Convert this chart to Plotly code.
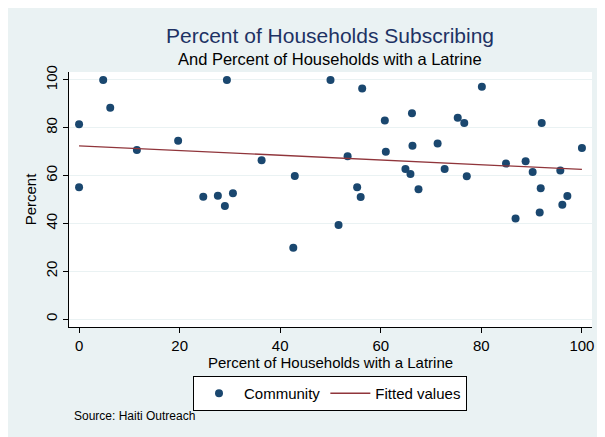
import numpy as np
import plotly.graph_objects as go

# Data
latrine = [0, 0, 4.8, 6.2, 11.5, 19.7, 24.7, 27.6, 29.0, 29.4, 30.6, 36.3, 42.6, 42.9,
           50.0, 51.6, 53.4, 55.3, 56.0, 56.3, 60.8, 61.0, 64.9, 65.9, 66.2, 66.3, 67.5,
           71.3, 72.7, 75.3, 76.6, 77.1, 80.1, 84.9, 86.8, 88.8, 90.2, 91.6, 91.8, 92.0,
           95.7, 96.1, 97.1, 100]
subscribing = [81.5, 55.1, 100, 88.4, 70.7, 74.6, 51.2, 51.6, 47.3, 100, 52.6, 66.4, 29.8, 59.8,
               100, 39.3, 68.1, 55.1, 51.0, 96.4, 83.0, 70.0, 62.8, 60.7, 86.1, 72.5, 54.3,
               73.4, 62.8, 84.2, 82.0, 59.7, 97.1, 65.0, 42.1, 66.0, 61.5, 44.6, 54.7, 82.0,
               62.1, 47.8, 51.5, 71.5]
x_ticks = [0, 20, 40, 60, 80, 100]
y_ticks = [0, 20, 40, 60, 80, 100]

xa = np.array(latrine)
ya = np.array(subscribing)
slope, intercept = np.polyfit(xa, ya, 1)
fx = np.array([xa.min(), xa.max()])
fy = intercept + slope * fx

W, H = 605, 437
OFF = 8  # page body margin offset
L, R, T, B = 69 - OFF, 592 - OFF, 72 - OFF, 327 - OFF  # plot area in figure pixels
def px(x):
    return (x - OFF - L) / (R - L)
def py(y):
    return (B - (y - OFF)) / (B - T)

FONT = "Liberation Sans, Arial, sans-serif"
BG = "#EAF2F3"

fig = go.Figure()
fig.add_trace(go.Scatter(x=latrine, y=subscribing, mode="markers", name="Community",
                         marker=dict(color="#1a476f", size=8, line=dict(width=0))))
fig.add_trace(go.Scatter(x=fx, y=fy, mode="lines", name="Fitted values",
                         line=dict(color="#90353b", width=1.3)))

fig.update_layout(
    width=W, height=H,
    margin=dict(l=L, r=W - R, t=T, b=H - B),
    paper_bgcolor=BG, plot_bgcolor="white",
    font=dict(family=FONT, size=15, color="black"),
    showlegend=True,
    legend=dict(orientation="h", x=px(330), xanchor="center", y=py(376), yanchor="top",
                bgcolor="white", bordercolor="black", borderwidth=1,
                font=dict(size=15), itemwidth=40),
    xaxis=dict(range=[-2, 102], tickvals=x_ticks, ticks="outside", ticklen=5,
               tickcolor="black", showline=True, linecolor="black", linewidth=1,
               showgrid=False, zeroline=False, tickfont=dict(size=15),
               title=dict(text="Percent of Households with a Latrine", font=dict(size=15), standoff=0)),
    yaxis=dict(range=[-3.3, 103.3], tickvals=y_ticks, ticks="outside", ticklen=5,
               tickcolor="black", showline=True, linecolor="black", linewidth=1,
               showgrid=True, gridcolor=BG, gridwidth=1, zeroline=False,
               tickangle=-90, tickfont=dict(size=15),
               title=dict(text="Percent", font=dict(size=15), standoff=2)),
    annotations=[
        dict(text="Percent of Households Subscribing", xref="paper", yref="paper",
             x=px(330), y=py(35), xanchor="center", yanchor="middle", showarrow=False,
             font=dict(size=21, color="#1e3264", family=FONT)),
        dict(text="And Percent of Households with a Latrine", xref="paper", yref="paper",
             x=px(330), y=py(59), xanchor="center", yanchor="middle", showarrow=False,
             font=dict(size=16.5, color="black", family=FONT)),
        dict(text="Source: Haiti Outreach", xref="paper", yref="paper",
             x=px(72), y=py(416), xanchor="left", yanchor="middle", showarrow=False,
             font=dict(size=12, color="black", family=FONT)),
    ],
)

fig.write_html("out.html")
